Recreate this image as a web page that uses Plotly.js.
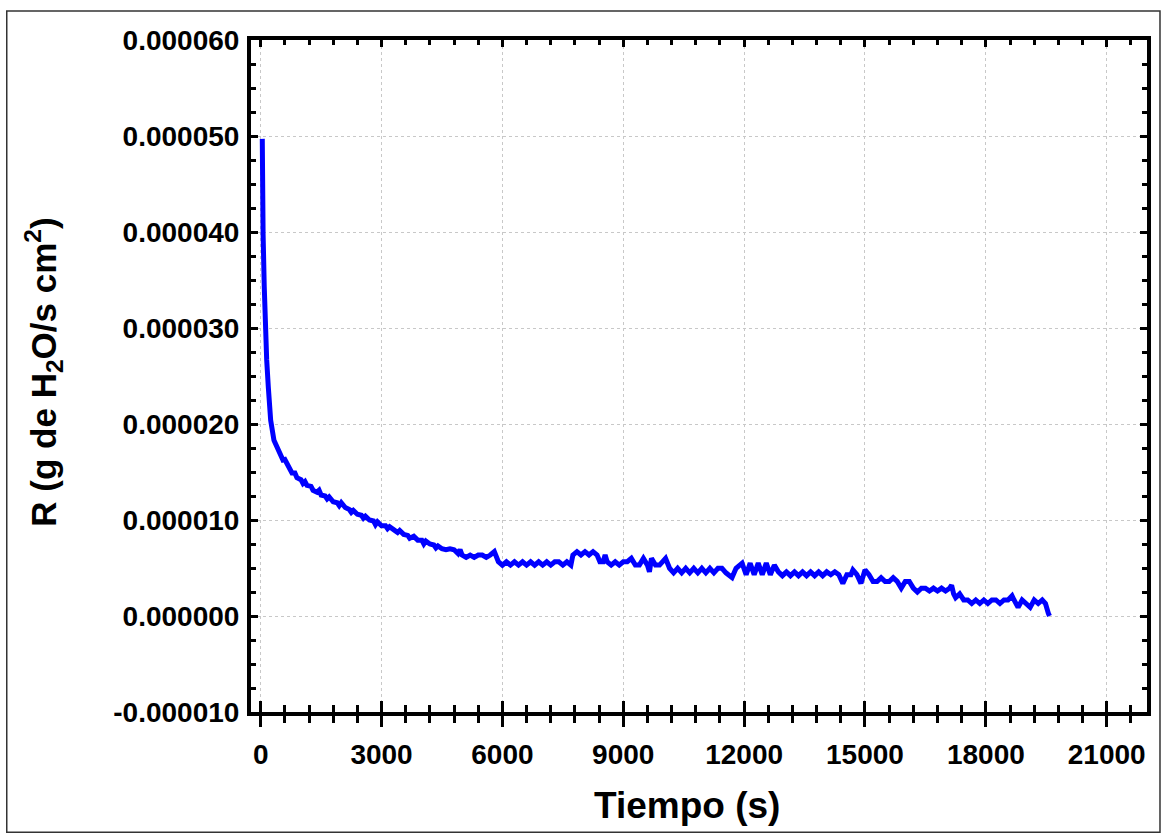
<!DOCTYPE html>
<html>
<head>
<meta charset="utf-8">
<script src="https://cdn.plot.ly/plotly-3.0.1.min.js"></script>
<style>html,body{margin:0;padding:0;background:#fff;}#chart{width:1167px;height:835px;}</style>
</head>
<body>
<div id="chart"></div>
<script>
// Time (s)
const tiempo = [
  40, 50, 60, 89, 114, 149, 189, 248, 330, 437, 553,
  600, 650, 700, 777, 850, 900, 1000, 1050, 1100, 1150, 1250, 1300, 1400, 1450, 1500,
  1600, 1650, 1700, 1800, 1900, 1950, 2000, 2100, 2200, 2250, 2300, 2400, 2500, 2550,
  2600, 2700, 2800, 2850, 2900, 3000, 3100, 3150, 3200, 3300, 3400, 3450, 3550, 3650,
  3700, 3800, 3900, 4000, 4050, 4100, 4200, 4300, 4350, 4400, 4500, 4600, 4700, 4800,
  4900, 4950, 5000, 5100, 5200, 5300, 5400, 5500, 5600, 5700, 5800,
  5900, 6000, 6100, 6200, 6300, 6400, 6500, 6600, 6700, 6800, 6900, 7000, 7100, 7200,
  7300, 7400, 7500, 7600, 7700,
  7750, 7850, 7950, 8050, 8150, 8250, 8350, 8420, 8500, 8550,
  8600, 8700, 8800, 8900, 9000, 9100, 9200, 9300, 9400, 9500, 9600, 9650, 9700, 9800,
  9900, 10050,
  10150, 10250, 10350, 10450, 10550, 10650, 10750, 10850, 10950, 11050, 11150, 11250,
  11350, 11450, 11550, 11700, 11800,
  11950, 12050, 12150, 12250, 12350, 12450, 12550, 12650, 12750,
  12850, 12950, 13050, 13150, 13250, 13350, 13450, 13550, 13650, 13750, 13850, 13950, 14050,
  14150, 14250, 14350, 14450, 14550, 14650, 14700, 14800, 14900, 15000, 15100,
  15200, 15300, 15400, 15500, 15600, 15700, 15800, 15900, 16000, 16100,
  16200, 16300, 16400, 16500, 16600, 16700, 16800, 16900, 17000, 17100, 17150, 17200, 17250, 17350,
  17450, 17550, 17650, 17750, 17850, 17950, 18050, 18150, 18250, 18350, 18450, 18550,
  18650, 18700, 18800, 18900, 19000, 19100, 19200, 19300, 19400, 19480, 19550, 19580
];
// R (g de H2O / s cm2)
const tasaR = [
  49.7e-6, 40.5e-6, 39.8e-6, 34.3e-6, 30.1e-6, 26.7e-6, 23.9e-6, 20.4e-6, 18.3e-6, 17.3e-6, 16.25e-6,
  16.3e-6, 15.9e-6, 15.5e-6, 14.9e-6, 14.9e-6, 14.4e-6, 14.2e-6, 13.8e-6, 14.0e-6, 13.6e-6, 13.5e-6, 13.1e-6, 12.9e-6, 13.1e-6, 12.6e-6,
  12.5e-6, 12.2e-6, 12.4e-6, 11.9e-6, 11.8e-6, 11.5e-6, 11.8e-6, 11.3e-6, 11.1e-6, 10.8e-6, 11.0e-6, 10.6e-6, 10.5e-6, 10.2e-6,
  10.4e-6, 10.0e-6, 9.9e-6, 9.5e-6, 9.8e-6, 9.4e-6, 9.4e-6, 9.1e-6, 9.3e-6, 9.0e-6, 8.7e-6, 8.9e-6, 8.5e-6, 8.4e-6,
  8.1e-6, 8.3e-6, 7.9e-6, 7.9e-6, 7.5e-6, 7.8e-6, 7.5e-6, 7.4e-6, 7.1e-6, 7.3e-6, 7.0e-6, 6.9e-6, 7.0e-6, 6.9e-6,
  6.5e-6, 6.9e-6, 6.35e-6, 6.1e-6, 6.35e-6, 6.1e-6, 6.35e-6, 6.35e-6, 6.1e-6, 6.35e-6, 6.7e-6,
  5.65e-6, 5.3e-6, 5.65e-6, 5.3e-6, 5.65e-6, 5.3e-6, 5.65e-6, 5.3e-6, 5.65e-6, 5.3e-6, 5.65e-6, 5.3e-6, 5.65e-6, 5.3e-6,
  5.65e-6, 5.65e-6, 5.3e-6, 5.65e-6, 5.3e-6,
  6.35e-6, 6.7e-6, 6.35e-6, 6.7e-6, 6.35e-6, 6.7e-6, 6.35e-6, 5.65e-6, 5.65e-6, 6.35e-6,
  5.65e-6, 5.3e-6, 5.65e-6, 5.3e-6, 5.65e-6, 5.65e-6, 6.0e-6, 5.3e-6, 5.3e-6, 6.0e-6, 5.3e-6, 4.6e-6, 6.0e-6, 5.3e-6,
  5.3e-6, 6.0e-6,
  4.97e-6, 4.5e-6, 4.97e-6, 4.5e-6, 4.97e-6, 4.5e-6, 4.97e-6, 4.5e-6, 4.97e-6, 4.5e-6, 4.97e-6, 4.5e-6,
  4.97e-6, 4.97e-6, 4.5e-6, 4.0e-6, 4.97e-6,
  5.5e-6, 4.3e-6, 5.5e-6, 4.3e-6, 5.5e-6, 4.3e-6, 5.5e-6, 4.3e-6, 5.3e-6,
  4.6e-6, 4.2e-6, 4.6e-6, 4.2e-6, 4.6e-6, 4.2e-6, 4.6e-6, 4.2e-6, 4.6e-6, 4.2e-6, 4.6e-6, 4.2e-6, 4.6e-6,
  4.3e-6, 4.6e-6, 4.3e-6, 3.4e-6, 4.3e-6, 4.3e-6, 4.8e-6, 4.3e-6, 3.4e-6, 4.8e-6, 4.3e-6,
  3.6e-6, 3.6e-6, 4.0e-6, 3.6e-6, 3.6e-6, 4.0e-6, 3.6e-6, 2.9e-6, 3.6e-6, 3.6e-6,
  2.9e-6, 2.5e-6, 2.9e-6, 2.9e-6, 2.6e-6, 2.9e-6, 2.6e-6, 2.9e-6, 2.6e-6, 2.9e-6, 3.2e-6, 2.3e-6, 1.9e-6, 2.3e-6,
  1.67e-6, 1.67e-6, 1.3e-6, 1.67e-6, 1.3e-6, 1.67e-6, 1.3e-6, 1.67e-6, 1.67e-6, 1.3e-6, 1.67e-6, 1.67e-6,
  2.1e-6, 1.67e-6, 0.9e-6, 1.67e-6, 1.3e-6, 0.9e-6, 1.67e-6, 1.3e-6, 1.67e-6, 1.3e-6, 0.3e-6, 0.0
];

const yTickVals = [-1e-5, 0, 1e-5, 2e-5, 3e-5, 4e-5, 5e-5, 6e-5];
const yTickText = ['-0.000010', '0.000000', '0.000010', '0.000020', '0.000030', '0.000040', '0.000050', '0.000060'];
const xTickVals = [0, 3000, 6000, 9000, 12000, 15000, 18000, 21000];
const xTickText = ['0', '3000', '6000', '9000', '12000', '15000', '18000', '21000'];
const xTitle = 'Tiempo (s)';
const yTitle = 'R (g de H<sub>2</sub>O/s cm<sup>2</sup>)';

const xRange = [-240, 22000];
const yRange = [-1e-5, 6e-5];
const FONT = 'Liberation Sans, Arial, sans-serif';

const traces = [
  {x: tiempo, y: tasaR, type: 'scatter', mode: 'lines',
   line: {color: '#0000ff', width: 5}, hoverinfo: 'skip'},
  {x: [], y: [], xaxis: 'x2', yaxis: 'y', type: 'scatter', mode: 'lines', showlegend: false},
  {x: [], y: [], xaxis: 'x3', yaxis: 'y', type: 'scatter', mode: 'lines', showlegend: false},
  {x: [], y: [], xaxis: 'x', yaxis: 'y2', type: 'scatter', mode: 'lines', showlegend: false}
];

const tickFont = {family: FONT, size: 28, color: '#000', weight: 'bold'};

const layout = {
  width: 1167, height: 835,
  margin: {l: 251, r: 20, t: 40, b: 123, pad: 0},
  paper_bgcolor: '#fff', plot_bgcolor: '#fff',
  showlegend: false,
  font: {family: FONT, color: '#000'},
  xaxis: {
    range: xRange, tickmode: 'array', tickvals: xTickVals, ticktext: xTickText,
    ticks: 'outside', ticklen: 11, tickwidth: 3, tickcolor: '#000',
    minor: {tick0: 0, dtick: 600, ticks: 'outside', ticklen: 7, tickwidth: 3, tickcolor: '#000', showgrid: false},
    showgrid: true, gridcolor: '#c8c8c8', griddash: 'dot', gridwidth: 1,
    showline: true, linewidth: 4, linecolor: '#000', mirror: true, zeroline: false,
    tickfont: tickFont, ticklabelstandoff: 3
  },
  xaxis2: {
    overlaying: 'x', anchor: 'y', side: 'bottom', range: xRange,
    tickmode: 'linear', tick0: 0, dtick: 3000,
    ticks: 'inside', ticklen: 11, tickwidth: 3, tickcolor: '#000',
    minor: {tick0: 0, dtick: 600, ticks: 'inside', ticklen: 7, tickwidth: 3, tickcolor: '#000', showgrid: false},
    showticklabels: false, showgrid: false, showline: false, zeroline: false
  },
  xaxis3: {
    overlaying: 'x', anchor: 'y', side: 'top', range: xRange,
    tickmode: 'linear', tick0: 0, dtick: 3000,
    ticks: 'inside', ticklen: 7, tickwidth: 3, tickcolor: '#000',
    minor: {tick0: 0, dtick: 600, ticks: 'inside', ticklen: 5, tickwidth: 3, tickcolor: '#000', showgrid: false},
    showticklabels: false, showgrid: false, showline: false, zeroline: false
  },
  yaxis: {
    range: yRange, tickmode: 'array', tickvals: yTickVals, ticktext: yTickText,
    ticks: 'inside', ticklen: 7, tickwidth: 3, tickcolor: '#000',
    minor: {tick0: 0, dtick: 2.5e-6, ticks: 'inside', ticklen: 5, tickwidth: 3, tickcolor: '#000', showgrid: false},
    showgrid: true, gridcolor: '#c8c8c8', griddash: 'dot', gridwidth: 1,
    showline: true, linewidth: 4, linecolor: '#000', mirror: true, zeroline: false,
    tickfont: tickFont, ticklabelstandoff: 2
  },
  yaxis2: {
    overlaying: 'y', anchor: 'x', side: 'right', range: yRange,
    tickmode: 'linear', tick0: 0, dtick: 1e-5,
    ticks: 'inside', ticklen: 7, tickwidth: 3, tickcolor: '#000',
    minor: {tick0: 0, dtick: 2.5e-6, ticks: 'inside', ticklen: 5, tickwidth: 3, tickcolor: '#000', showgrid: false},
    showticklabels: false, showgrid: false, showline: false, zeroline: false
  },
  annotations: [
    {text: xTitle, xref: 'paper', yref: 'paper', x: 0.4866, y: -0.1384,
     xanchor: 'center', yanchor: 'middle', showarrow: false,
     font: {family: FONT, size: 37, color: '#000', weight: 'bold'}},
    {text: yTitle, xref: 'paper', yref: 'paper', x: -0.2310, y: 0.505,
     xanchor: 'center', yanchor: 'middle', showarrow: false, textangle: -90,
     font: {family: FONT, size: 35, color: '#000', weight: 'bold'}}
  ],
  shapes: [
    {type: 'rect', xref: 'paper', yref: 'paper',
     x0: -0.2726, x1: 1.0145, y0: -0.1790, y1: 1.0432,
     line: {color: '#333', width: 1.5}, fillcolor: 'rgba(0,0,0,0)', layer: 'below'}
  ]
};

Plotly.newPlot('chart', traces, layout, {staticPlot: true, displayModeBar: false});
</script>
</body>
</html>
